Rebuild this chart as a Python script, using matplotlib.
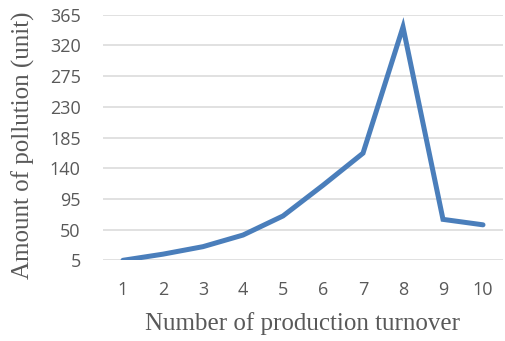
import matplotlib
matplotlib.use("Agg")
import matplotlib.pyplot as plt

turnover = [1, 2, 3, 4, 5, 6, 7, 8, 9, 10]
pollution = [5, 14, 25, 42, 70, 115, 162, 347, 65, 57]
y_ticks = [5, 50, 95, 140, 185, 230, 275, 320, 365]

fig = plt.figure(figsize=(5.06, 3.41), dpi=100)
ax = fig.add_axes([103 / 506, 1 - 260.3 / 341, 400 / 506, 245.6 / 341])

ax.plot(turnover, pollution, color="#4A7EBB", linewidth=3.6,
        solid_joinstyle="miter", solid_capstyle="round", zorder=3)

ax.set_xlim(0.5, 10.5)
ax.set_ylim(5, 365)
ax.set_xticks(turnover)
ax.set_yticks(y_ticks)
ax.yaxis.grid(True, color="#D9D9D9", linewidth=1.1)
ax.set_axisbelow(True)
for s in ax.spines.values():
    s.set_visible(False)
ax.tick_params(length=0, labelsize=13, labelcolor="#595959")
for lab in ax.get_xticklabels() + ax.get_yticklabels():
    lab.set_family("Open Sans")
ax.tick_params(axis="y", pad=16)
ax.tick_params(axis="x", pad=15)

ax.set_xlabel("Number of production turnover", family="Liberation Serif",
              fontsize=18, color="#595959", labelpad=9)
ax.set_ylabel("Amount of pollution (unit)", family="Liberation Serif",
              fontsize=18, color="#595959")
ax.yaxis.set_label_coords(-0.17, 0.469)

fig.savefig("out.png", dpi=100)
